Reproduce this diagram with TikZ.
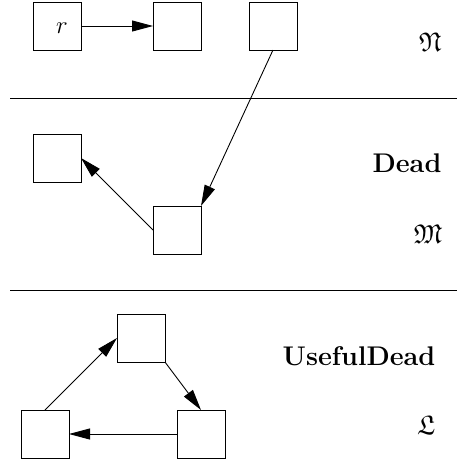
\documentclass[tikz,border=0pt]{standalone}
\usepackage{amssymb}
\usetikzlibrary{arrows.meta}
\begin{document}
\begin{tikzpicture}[x=1pt,y=-1pt,
  box/.style={draw,line width=1pt,minimum size=48pt,inner sep=0pt,outer sep=0pt},
  arr/.style={-{Triangle[length=21pt,width=11pt]},line width=0.9pt},
  lbl/.style={font=\fontsize{27}{32}\selectfont,inner sep=0pt}]
\useasboundingbox (0,0) rectangle (457,464);
% top section
\node[box] (b1) at (57,26) {};
\node[lbl] (r) at (62,28) {$r$};
\node[box] (b2) at (177,26) {};
\node[box] (b3) at (273,26) {};
\node[lbl] (N) at (430,42) {$\mathfrak{N}$};
\draw[line width=1pt] (10,98) coordinate (s1a) -- (457,98) coordinate (s1b);
% middle section
\node[box] (b4) at (57,158) {};
\node[box] (b5) at (177,230) {};
\node[lbl] (dead) at (407,163) {\textbf{Dead}};
\node[lbl] (M) at (428,234) {$\mathfrak{M}$};
\draw[line width=1pt] (10,290) coordinate (s2a) -- (457,290) coordinate (s2b);
% bottom section
\node[box] (t) at (141,338) {};
\node[box] (bl) at (45,434) {};
\node[box] (br) at (201,434) {};
\node[lbl] (ud) at (359,356) {\textbf{UsefulDead}};
\node[lbl] (L) at (426,425) {$\mathfrak{L}$};
% connectors
\draw[arr] (b1.east) -- (b2.west);
\draw[arr] (b3.south) -- (b5.north east);
\draw[arr] (b5.west) -- (b4.east);
\draw[arr] (bl.north) -- (t.west);
\draw[arr] (t.south east) -- (br.north);
\draw[arr] (br.west) -- (bl.east);
\end{tikzpicture}
\end{document}
